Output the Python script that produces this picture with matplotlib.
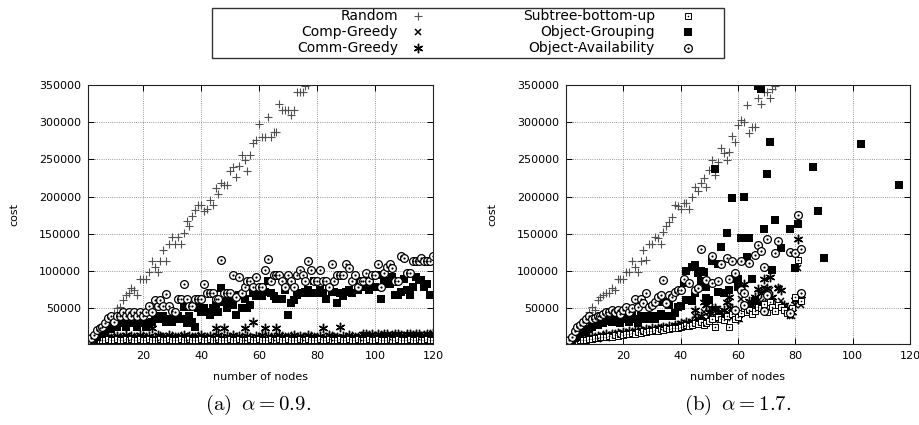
import numpy as np
import matplotlib
matplotlib.use('Agg')
import matplotlib.pyplot as plt
from matplotlib.patches import Rectangle

plt.rcParams['font.family'] = ['DejaVu Sans']
plt.rcParams['mathtext.fontset'] = 'cm'

# ---------------- data (cost in thousands) ----------------
yticks = [50000, 100000, 150000, 200000, 250000, 300000, 350000]
xticks = [20, 40, 60, 80, 100, 120]
captions = [r"$\mathrm{(a)}\;\;\alpha = 0.9.$", r"$\mathrm{(b)}\;\;\alpha = 1.7.$"]
names = ["Random", "Comp-Greedy", "Comm-Greedy", "Subtree-bottom-up",
         "Object-Grouping", "Object-Availability"]

# panel (a), one value per node count starting at 1
a_random = [8,12,16,21,23,25,30,33,37,43,50,52,61,68,70,77,75,68,90,90,
            90,99,113,106,99,113,128,113,137,146,137,146,137,151,167,160,174,182,189,189,
            181,184,195,189,211,204,218,215,216,234,240,227,241,256,249,234,256,272,276,297,
            280,280,307,280,287,287,325,317,317,317,310,317,340,340,340,349,350]
a_comp = [4,5,5,6,5,6,7,6,5,7,6,8,7,6,7,8,6,7,8,7,6,8,7,6,7,8,7,6,8,7,
          6,7,8,6,7,8,7,6,7,8,6,7,8,7,6,8,7,6,7,8,7,6,8,7,6,7,8,6,7,8,
          7,6,7,8,6,7,8,7,6,8,7,6,7,8,7,6,8,7,6,7,8,6,7,8,7,6,7,8,6,7,
          8,7,6,8,7,6,7,8,7,6,8,7,6,7,8,6,7,8,7,6,7,8,6,7,8,7,6,8,7,6]
a_comm = [6,7,8,9,10,9,11,12,10,11,13,12,11,14,12,13,11,12,14,13,12,13,23,12,14,13,11,12,14,13,
          12,11,13,14,12,13,11,12,13,14,12,11,13,12,23,14,12,23,13,12,14,11,13,12,23,13,12,32,13,12,
          14,23,13,12,11,23,14,13,12,11,13,14,12,13,11,12,14,13,12,11,13,23,12,14,13,11,12,25,13,12,
          14,13,12,11,13,15,16,14,15,13,16,14,15,16,13,14,15,16,14,13,15,16,14,15,16,13,14,15,16,17]
a_subtree = [5,6,6,7,8,7,8,9,7,8,9,8,7,9,8,9,7,8,9,8,7,9,8,7,8,9,8,7,9,8,
             7,8,9,7,8,9,8,7,8,9,7,8,9,8,7,9,8,7,8,9,8,7,9,8,7,8,9,7,8,9,
             8,7,8,9,7,8,9,8,7,9,8,7,8,9,8,7,9,8,7,8,9,7,8,9,8,7,8,9,7,8,
             9,8,7,9,8,7,8,9,8,7,9,8,7,8,9,7,8,9,8,7,8,9,7,8,9,8,7,9,8,7]
a_group = [5,7,9,12,15,17,20,25,22,32,25,30,32,25,30,32,30,25,30,32,
           25,30,32,35,39,35,39,32,35,32,35,39,35,52,30,39,32,25,50,45,
           50,45,41,50,55,45,77,59,50,61,55,41,68,50,63,50,55,70,66,70,
           66,72,86,70,66,63,63,63,74,41,57,61,68,70,70,72,74,70,86,70,
           74,70,63,79,72,72,57,70,66,72,74,70,86,74,79,86,79,74,79,79,
           95,63,86,83,83,92,68,68,72,90,74,68,79,92,88,88,79,83,68,68]
a_avail = [7,10,14,21,23,25,30,37,39,32,39,39,45,39,45,39,45,39,45,39,
           45,53,45,61,53,61,53,69,53,47,45,62,62,83,62,53,53,62,62,62,
           83,70,70,70,63,62,115,70,70,70,95,65,92,70,79,86,86,79,92,79,
           79,101,116,86,95,95,95,86,79,95,86,79,95,101,95,86,113,101,86,86,
           101,86,86,79,110,86,95,95,95,110,104,86,95,79,86,86,97,86,95,95,
           110,79,97,106,110,104,86,86,120,117,97,97,113,113,113,117,113,113,113,120]

# panel (b)
b_random = [8,12,19,25,30,33,37,45,52,48,61,65,68,70,70,77,75,90,90,90,
            99,99,113,106,99,113,128,115,137,137,146,144,137,153,160,166,173,189,187,184,
            191,191,184,200,213,207,218,225,213,236,249,229,247,265,259,249,260,281,274,296,
            303,300,323,285,294,294,332,325,341,341,332,345,348]
b_comp = [4,5,6,6,7,8,8,9,10,10,11,10,12,13,12,14,13,15,14,16,
          15,17,16,18,17,19,18,20,19,21,20,22,21,23,22,24,23,25,24,27,
          26,28,27,30,39,32,34,45,34,38,42,34,49,44,41,37,52,44,40,36,
          63,55,48,52,45,51,60,58,77,62,74,57,48,77,60,53,45,39,40,55,104,55]
b_comm = [5,6,8,7,9,10,9,11,12,11,13,12,14,15,13,16,15,17,16,18,
          17,19,18,20,19,21,20,22,21,23,22,24,23,25,24,26,25,28,27,30,
          29,31,30,33,48,35,40,58,54,45,50,51,45,40,48,58,65,50,40,35,
          77,82,48,60,55,65,76,70,90,77,92,65,55,77,75,55,50,49,45,61,143,68]
b_subtree = [4,5,5,6,7,7,8,9,9,10,10,11,12,11,13,12,14,13,15,14,
             16,15,17,16,18,17,19,18,20,19,21,20,22,21,23,22,24,23,24,25,
             26,27,26,28,30,29,31,28,30,33,35,25,38,36,34,40,25,42,35,38,
             44,50,45,48,42,47,52,50,56,45,58,52,47,55,52,48,44,42,50,65,115,60]
b_group = [5,7,10,12,15,18,20,22,25,30,28,32,30,35,33,32,39,35,30,39,
           35,32,39,35,30,39,35,40,35,39,35,39,42,59,40,55,39,44,52,53]
b_group_x2 = [41,42,42,43,44,44,45,45,46,47,47,48,49,49,50,51,52,53,53,54,
              55,56,57,58,59,60,60,61,62,63,64,65,66,67,68,69,70,71,72,73,
              75,78,80,81,86,88,90,103,116]
b_group_y2 = [84,100,61,61,60,106,108,70,97,86,100,99,79,64,61,113,237,110,72,132,
              70,151,75,198,90,79,90,144,200,119,145,89,60,349,345,157,230,273,102,168,
              131,156,104,163,240,181,118,271,216]
b_avail = [7,12,19,25,28,32,35,39,35,37,39,39,42,45,45,48,45,48,42,48,
           52,45,50,63,52,63,57,70,52,55,59,65,68,88,57,68,65,72,75,75]
b_avail_x2 = [41,43,45,46,47,49,51,51,53,54,56,57,58,59,59,61,61,62,62,64,
              66,67,68,69,69,70,70,73,74,78,78,80,81,82,82]
b_avail_y2 = [89,84,75,77,129,88,84,120,86,110,117,90,113,97,48,113,75,70,54,111,
              121,135,127,106,47,143,68,124,140,126,44,124,175,129,70]

# ---------------- styles ----------------
styles = {
    "Random": dict(marker='+', ms=5.6, mew=0.8, color='#505050'),
    "Comp-Greedy": dict(marker='x', ms=4.8, mew=1.1, color='black'),
    "Comm-Greedy": dict(marker=(6, 2, 0), ms=6.8, mew=1.0, color='black'),
    "Subtree-bottom-up": dict(marker='s', ms=4.8, mew=0.7, color='black', mfc='white'),
    "Object-Grouping": dict(marker='s', ms=5.6, mew=0, color='black'),
    "Object-Availability": dict(marker='o', ms=5.6, mew=0.9, color='black', mfc='white'),
}
dotted = {"Subtree-bottom-up": 1.2, "Object-Availability": 1.6}


def k(v):
    return np.asarray(v, dtype=float) * 1000.0


def seq(v):
    return np.arange(1, len(v) + 1)


def draw(ax, name, x, y):
    ax.plot(x, k(y), ls='none', clip_on=True, **styles[name])
    if name in dotted:
        ax.plot(x, k(y), ls='none', marker='o', ms=dotted[name], mew=0,
                color='black')


fig = plt.figure(figsize=(9.2, 4.25), dpi=100)
axA = fig.add_axes([88 / 920, 1 - 344 / 425, 345 / 920, 259 / 425])
axB = fig.add_axes([566 / 920, 1 - 344 / 425, 344 / 920, 259 / 425])

draw(axA, "Random", seq(a_random), a_random)
draw(axA, "Comp-Greedy", seq(a_comp), a_comp)
draw(axA, "Comm-Greedy", seq(a_comm), a_comm)
draw(axA, "Subtree-bottom-up", seq(a_subtree), a_subtree)
draw(axA, "Object-Grouping", seq(a_group), a_group)
draw(axA, "Object-Availability", seq(a_avail), a_avail)

draw(axB, "Random", seq(b_random), b_random)
draw(axB, "Comp-Greedy", seq(b_comp), b_comp)
draw(axB, "Comm-Greedy", seq(b_comm), b_comm)
draw(axB, "Subtree-bottom-up", seq(b_subtree), b_subtree)
draw(axB, "Object-Grouping", np.concatenate([seq(b_group), b_group_x2]),
     b_group + b_group_y2)
draw(axB, "Object-Availability", np.concatenate([seq(b_avail), b_avail_x2]),
     b_avail + b_avail_y2)

for ax, xmin, cap, cx in [(axA, 1, captions[0], 258), (axB, 0, captions[1], 738)]:
    ax.set_xlim(xmin, 120)
    ax.set_ylim(2000, 350000)
    ax.set_xticks(xticks)
    ax.set_yticks(yticks)
    ax.set_yticklabels([str(t) for t in yticks])
    ax.tick_params(direction='in', length=4, width=0.7, labelsize=8,
                   top=True, right=True, pad=5)
    ax.grid(True, ls=(0, (1, 1.6)), color='#777777', lw=0.6)
    ax.set_axisbelow(True)
    for s in ax.spines.values():
        s.set_linewidth(0.8)
        s.set_color('#222222')
    ax.set_xlabel("number of nodes", fontsize=8, labelpad=8)
    ax.set_ylabel("cost", fontsize=8, labelpad=14)
    fig.text(cx / 920, 1 - 405 / 425, cap, ha='center', va='center',
             fontsize=15)

# ---------------- legend (gnuplot style key) ----------------
lax = fig.add_axes([0, 0, 1, 1], zorder=5)
lax.set_xlim(0, 920)
lax.set_ylim(425, 0)
lax.axis('off')
lax.add_patch(Rectangle((212, 8), 512, 50, fill=False, lw=1.0, ec='#333333'))
rows = [16, 32, 48]
cols = [(398, 418), (655, 688)]
for i, name in enumerate(names):
    tx, mx = cols[i // 3]
    ry = rows[i % 3]
    lax.text(tx, ry, name, ha='right', va='center', fontsize=10)
    st = dict(styles[name])
    lax.plot([mx], [ry], ls='none', **st)
    if name in dotted:
        lax.plot([mx], [ry], ls='none', marker='o', ms=dotted[name], mew=0,
                 color='black')

fig.savefig("out.png", dpi=100)
